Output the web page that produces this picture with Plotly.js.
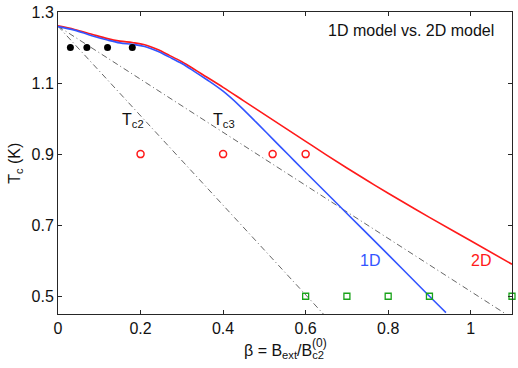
<!DOCTYPE html>
<html>
<head>
<meta charset="utf-8">
<script src="https://cdn.plot.ly/plotly-3.0.1.min.js"></script>
<style>html,body{margin:0;padding:0;background:#fff;}#chart{width:518px;height:368px;}</style>
</head>
<body>
<div id="chart"></div>
<script>
// 1D model curve (blue)
const beta1D = [0.00, 0.04, 0.08, 0.12, 0.15, 0.18, 0.21, 0.24, 0.27, 0.30, 0.33, 0.36, 0.40, 0.44, 0.48, 0.52, 0.56, 0.60, 0.70, 0.80, 0.90, 0.94];
const tc1D   = [1.259, 1.249, 1.234, 1.221, 1.213, 1.209, 1.203, 1.190, 1.173, 1.155, 1.133, 1.110, 1.077, 1.036, 0.990, 0.943, 0.896, 0.849, 0.733, 0.617, 0.500, 0.454];
// 2D model curve (red)
const beta2D = [0.00, 0.04, 0.08, 0.12, 0.15, 0.18, 0.21, 0.24, 0.27, 0.30, 0.33, 0.36, 0.40, 0.45, 0.50, 0.55, 0.60, 0.65, 0.70, 0.75, 0.80, 0.90, 1.00, 1.10];
const tc2D   = [1.261, 1.251, 1.238, 1.225, 1.218, 1.214, 1.208, 1.195, 1.178, 1.160, 1.139, 1.117, 1.088, 1.050, 1.012, 0.974, 0.936, 0.898, 0.861, 0.825, 0.790, 0.722, 0.656, 0.590];
// Tc2 and Tc3 straight lines
const betaTc2 = [0.000, 0.643];
const valTc2  = [1.260, 0.450];
const betaTc3 = [0.000, 1.085];
const valTc3  = [1.260, 0.450];
// Experimental points
const betaBlack = [0.03, 0.07, 0.12, 0.18];
const tcBlack   = [1.2, 1.2, 1.2, 1.2];
const betaRed   = [0.2, 0.4, 0.52, 0.6];
const tcRed     = [0.9, 0.9, 0.9, 0.9];
const betaGreen = [0.6, 0.7, 0.8, 0.9, 1.1];
const tcGreen   = [0.5, 0.5, 0.5, 0.5, 0.5];
// Ticks
const xTickVals = [0, 0.2, 0.4, 0.6, 0.8, 1];
const xTickText = ['0', '0.2', '0.4', '0.6', '0.8', '1'];
const yTickVals = [0.5, 0.7, 0.9, 1.1, 1.3];
const yTickText = ['0.5', '0.7', '0.9', '1.1', '1.3'];

const dashdot = '6px,3px,1px,3px';
const traces = [
  {x: betaTc2, y: valTc2, mode: 'lines', line: {color: '#555', width: 0.9, dash: dashdot}, hoverinfo: 'skip'},
  {x: betaTc3, y: valTc3, mode: 'lines', line: {color: '#555', width: 0.9, dash: dashdot}, hoverinfo: 'skip'},
  {x: beta2D, y: tc2D, mode: 'lines', line: {color: '#ff1a1a', width: 1.6, shape: 'spline', smoothing: 1}},
  {x: beta1D, y: tc1D, mode: 'lines', line: {color: '#3355ff', width: 1.6, shape: 'spline', smoothing: 1}},
  {x: betaBlack, y: tcBlack, mode: 'markers', marker: {symbol: 'circle', size: 7, color: '#000'}},
  {x: betaRed, y: tcRed, mode: 'markers', marker: {symbol: 'circle-open', size: 7, color: '#ff1a1a', line: {width: 1.5, color: '#ff1a1a'}}},
  {x: betaGreen, y: tcGreen, mode: 'markers', cliponaxis: false, marker: {symbol: 'square-open', size: 6, color: '#1aa31a', line: {width: 1.3, color: '#1aa31a'}}}
];

const axisCommon = {
  ticks: 'inside', ticklen: 4, tickcolor: '#262626', tickwidth: 1,
  showline: true, linecolor: '#262626', linewidth: 1, mirror: 'ticks',
  showgrid: false, zeroline: false, fixedrange: true,
  tickfont: {size: 16, color: '#111'}
};

const layout = {
  width: 518, height: 368,
  margin: {l: 58, r: 6, t: 12, b: 54},
  paper_bgcolor: '#fff', plot_bgcolor: '#fff',
  showlegend: false,
  font: {family: 'Liberation Sans, Arial, sans-serif', size: 16, color: '#111'},
  xaxis: Object.assign({}, axisCommon, {range: [0, 1.1], tickvals: xTickVals, ticktext: xTickText}),
  yaxis: Object.assign({}, axisCommon, {range: [0.45, 1.3], tickvals: yTickVals, ticktext: yTickText}),
  annotations: [
    {text: '1D model vs. 2D model', x: 0.856, y: 1.247, xref: 'x', yref: 'y', showarrow: false, xanchor: 'center', yanchor: 'middle', font: {size: 16, color: '#111'}},
    {text: 'T<sub>c2</sub>', x: 0.150, y: 0.995, xref: 'x', yref: 'y', showarrow: false, xanchor: 'left', yanchor: 'middle', font: {size: 16, color: '#111'}},
    {text: 'T<sub>c3</sub>', x: 0.370, y: 0.995, xref: 'x', yref: 'y', showarrow: false, xanchor: 'left', yanchor: 'middle', font: {size: 16, color: '#111'}},
    {text: '1D', x: 0.755, y: 0.600, xref: 'x', yref: 'y', showarrow: false, xanchor: 'center', yanchor: 'middle', font: {size: 16, color: '#3355ff'}},
    {text: '2D', x: 1.024, y: 0.600, xref: 'x', yref: 'y', showarrow: false, xanchor: 'center', yanchor: 'middle', font: {size: 16, color: '#ff1a1a'}},
    {text: 'β = B<sub>ext</sub>/B<sub>c2</sub>', x: 0.498, y: -0.085, xref: 'paper', yref: 'paper', showarrow: false, xanchor: 'center', yanchor: 'top', font: {size: 16, color: '#111'}},
    {text: '(0)', x: 0.576, y: -0.096, xref: 'paper', yref: 'paper', showarrow: false, xanchor: 'center', yanchor: 'middle', font: {size: 12, color: '#111'}},
    {text: 'T<sub>c</sub> (K)', x: -0.095, y: 0.5, xref: 'paper', yref: 'paper', showarrow: false, xanchor: 'center', yanchor: 'middle', textangle: -90, font: {size: 16, color: '#111'}}
  ]
};

Plotly.newPlot('chart', traces, layout, {displayModeBar: false, staticPlot: true});
</script>
</body>
</html>
